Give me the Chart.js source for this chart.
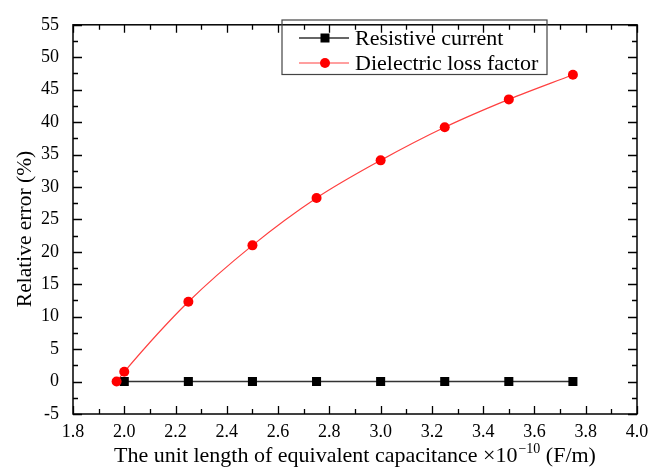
<!DOCTYPE html>
<html>
<head>
<meta charset="utf-8">
<script src="https://cdn.jsdelivr.net/npm/chart.js@4.4.1/dist/chart.umd.min.js"></script>
<style>
  html, body { margin: 0; padding: 0; background: #fff; }
  #wrap { width: 661px; height: 468px; position: relative; }
</style>
</head>
<body>
<div id="wrap"><canvas id="errorGraph"></canvas></div>
<script>
/* Relative error vs unit length capacitance */

const SERIF = "'Liberation Serif', 'Times New Roman', serif";

// Resistive current
const resistiveCap = [2.0, 2.25, 2.5, 2.75, 3.0, 3.25, 3.5, 3.75];
const resistiveErr = [0, 0, 0, 0, 0, 0, 0, 0];

// Dielectric loss factor
const lossCap = [1.97, 2.0, 2.25, 2.5, 2.75, 3.0, 3.25, 3.5, 3.75];
const lossErr = [0, 1.5, 12.3, 21.0, 28.3, 34.1, 39.2, 43.5, 47.3];

const xTitle = ['The unit length of equivalent capacitance \u00d710', '\u221210', ' (F/m)'];
const yTitle = 'Relative error (%)';

const toPoints = (xs, ys) => xs.map((x, i) => ({ x: x, y: ys[i] }));

// box around the plot with inward ticks on all four sides, titles and legend
const framePlugin = {
  id: 'frame',
  afterDatasetsDraw(chart) {
    const ctx = chart.ctx;
    const a = chart.chartArea;
    const xs = chart.scales.x, ys = chart.scales.y;
    ctx.save();
    ctx.strokeStyle = '#000';
    ctx.lineWidth = 1.5;
    ctx.strokeRect(a.left, a.top, a.right - a.left, a.bottom - a.top);
    ctx.lineWidth = 1.3;
    ctx.beginPath();
    for (let i = 0; i <= 22; i++) {
      const v = 1.8 + i * 0.1;
      const px = Math.round(xs.getPixelForValue(v)) + 0.5;
      const len = i % 2 === 0 ? 8 : 5;
      ctx.moveTo(px, a.bottom); ctx.lineTo(px, a.bottom - len);
      ctx.moveTo(px, a.top); ctx.lineTo(px, a.top + len);
    }
    for (let i = 0; i <= 24; i++) {
      const v = -5 + i * 2.5;
      const py = Math.round(ys.getPixelForValue(v)) + 0.5;
      const len = i % 2 === 0 ? 9 : 5;
      ctx.moveTo(a.left, py); ctx.lineTo(a.left + len, py);
      ctx.moveTo(a.right, py); ctx.lineTo(a.right - len, py);
    }
    ctx.stroke();
    ctx.restore();
  },
  afterDraw(chart) {
    const ctx = chart.ctx;
    const a = chart.chartArea;
    ctx.save();
    ctx.fillStyle = '#000';

    // x title with superscript exponent
    ctx.textBaseline = 'alphabetic';
    const mainFont = '22px ' + SERIF;
    const supFont = '14px ' + SERIF;
    ctx.font = mainFont;
    const w1 = ctx.measureText(xTitle[0]).width;
    const w3 = ctx.measureText(xTitle[2]).width;
    ctx.font = supFont;
    const w2 = ctx.measureText(xTitle[1]).width;
    let x = (a.left + a.right) / 2 - (w1 + w2 + w3 + 1) / 2;
    const y = 462;
    ctx.font = mainFont;
    ctx.fillText(xTitle[0], x, y);
    x += w1 + 1;
    ctx.font = supFont;
    ctx.fillText(xTitle[1], x, y - 9);
    x += w2;
    ctx.font = mainFont;
    ctx.fillText(xTitle[2], x, y);

    // y title
    ctx.save();
    ctx.translate(25, 229);
    ctx.rotate(-Math.PI / 2);
    ctx.font = '21.5px ' + SERIF;
    ctx.textAlign = 'center';
    ctx.textBaseline = 'middle';
    ctx.fillText(yTitle, 0, 0);
    ctx.restore();

    // legend
    const box = { left: 282, top: 20, right: 547, bottom: 74.5 };
    ctx.strokeStyle = '#444';
    ctx.lineWidth = 1.2;
    ctx.strokeRect(box.left, box.top, box.right - box.left, box.bottom - box.top);
    const rows = [chart.data.datasets[1], chart.data.datasets[0]];
    rows.forEach((ds, i) => {
      const ry = 38 + i * 25;
      ctx.strokeStyle = ds.borderColor;
      ctx.lineWidth = ds.borderWidth;
      ctx.beginPath();
      ctx.moveTo(299, ry); ctx.lineTo(349, ry);
      ctx.stroke();
      ctx.fillStyle = ds.pointBackgroundColor;
      if (ds.pointStyle === 'rect') {
        ctx.fillRect(325 - 4.5, ry - 4.5, 9, 9);
      } else {
        ctx.beginPath();
        ctx.arc(325, ry, 5, 0, Math.PI * 2);
        ctx.fill();
      }
      ctx.fillStyle = '#000';
      ctx.font = '22px ' + SERIF;
      ctx.textBaseline = 'middle';
      ctx.fillText(ds.label, 355, ry + 1);
    });
    ctx.restore();
  }
};

const chart = new Chart(document.getElementById('errorGraph').getContext('2d'), {
  type: 'scatter',
  data: {
    datasets: [
      {
        label: 'Dielectric loss factor',
        data: toPoints(lossCap, lossErr),
        showLine: true,
        borderColor: 'rgba(255, 30, 30, 0.85)',
        borderWidth: 1.2,
        cubicInterpolationMode: 'monotone',
        pointStyle: 'circle',
        pointRadius: 5,
        pointBorderWidth: 0,
        pointBackgroundColor: '#ff0000',
        order: 0
      },
      {
        label: 'Resistive current',
        data: toPoints(resistiveCap, resistiveErr),
        showLine: true,
        borderColor: '#333',
        borderWidth: 1.6,
        pointStyle: 'rect',
        pointRadius: 6.4,
        pointBorderWidth: 0,
        pointBackgroundColor: '#000',
        order: 1
      }
    ]
  },
  options: {
    responsive: true,
    maintainAspectRatio: false,
    animation: false,
    devicePixelRatio: 1,
    layout: { padding: { top: 16, right: 24, left: 0, bottom: 0 } },
    plugins: {
      legend: { display: false },
      tooltip: { enabled: false }
    },
    scales: {
      x: {
        type: 'linear',
        min: 1.8,
        max: 4.0,
        grid: { display: false, drawTicks: false },
        border: { display: false },
        ticks: {
          stepSize: 0.2,
          padding: 7,
          color: '#000',
          font: { family: SERIF, size: 18 },
          maxRotation: 0,
          callback: function(value) {
            return value.toFixed(1);
          }
        },
        afterFit: function(scale) { scale.height = 54; }
      },
      y: {
        min: -5,
        max: 55,
        grid: { display: false, drawTicks: false },
        border: { display: false },
        ticks: {
          stepSize: 5,
          padding: 14,
          color: '#000',
          font: { family: SERIF, size: 18 }
        },
        afterFit: function(scale) { scale.width = 73; }
      }
    }
  },
  plugins: [framePlugin]
});
</script>
</body>
</html>
